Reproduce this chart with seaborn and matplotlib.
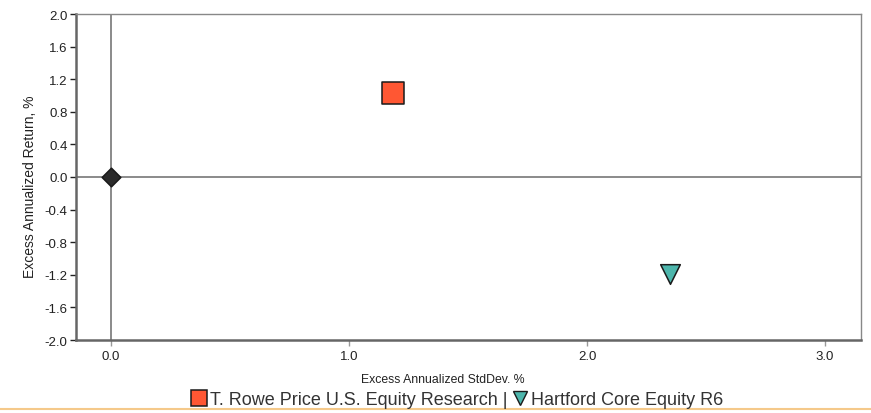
import matplotlib
matplotlib.use("Agg")
import matplotlib.pyplot as plt
import seaborn as sns
import pandas as pd
from matplotlib.lines import Line2D

names = ["Benchmark", "T. Rowe Price U.S. Equity Research", "Hartford Core Equity R6"]
std_dev = [0.0, 1.185, 2.35]
ret = [0.0, 1.03, -1.19]
colors = ["#2b2b2b", "#FF5733", "#4DB6AC"]
markers = ["D", "s", "v"]
sizes = [90, 240, 200]

x_ticks = [0.0, 1.0, 2.0, 3.0]
y_ticks = [2.0, 1.6, 1.2, 0.8, 0.4, 0.0, -0.4, -0.8, -1.2, -1.6, -2.0]

df = pd.DataFrame({"name": names, "x": std_dev, "y": ret})

sns.set_style("white")
plt.rcParams["font.family"] = ["Liberation Sans", "DejaVu Sans"]

fig = plt.figure(figsize=(8.71, 4.14), dpi=100)
ax = fig.add_axes([76/871, 1-341/414, (861-76)/871, (341-15)/414])

ax.axvline(0, color="#777777", lw=1.2, zorder=1)
ax.axhline(0, color="#777777", lw=1.2, zorder=1)

for i, n in enumerate(names):
    sub = df[df["name"] == n]
    sns.scatterplot(data=sub, x="x", y="y", ax=ax, marker=markers[i], s=sizes[i],
                    color=colors[i], edgecolor="#1a1a1a", linewidth=1.1, zorder=3,
                    legend=False)

ax.set_xlim(-0.147, 3.151)
ax.set_ylim(-2.0, 2.0)
ax.set_xticks(x_ticks)
ax.set_xticklabels([f"{v:.1f}" for v in x_ticks])
ax.set_yticks(y_ticks)
ax.set_yticklabels([f"{v:.1f}" for v in y_ticks])
ax.tick_params(axis="both", labelsize=9.5, colors="#222222", length=4, width=1,
               direction="out", left=True, bottom=True, pad=2)
ax.tick_params(axis="x", color="#999999", pad=3)

for s in ["left", "bottom"]:
    ax.spines[s].set_color("#666666")
    ax.spines[s].set_linewidth(1.8)
for s in ["top", "right"]:
    ax.spines[s].set_color("#888888")
    ax.spines[s].set_linewidth(1.0)

ax.set_xlabel("Excess Annualized StdDev. %", fontsize=8.8, color="#222222")
ax.xaxis.set_label_coords((443-76)/785, -(380-341)/326, transform=None) if False else None
ax.xaxis.set_label_coords((443-76)/785, -(380-341)/326)
ax.xaxis.label.set_va("center")
ax.set_ylabel("Excess Annualized Return, %", fontsize=10, color="#222222")
ax.yaxis.set_label_coords(-(76-30)/785, (341-187)/326)
ax.yaxis.label.set_va("center")

handles = [
    Line2D([], [], marker="s", linestyle="none", markersize=11.5, markerfacecolor=colors[1],
           markeredgecolor="#1a1a1a", markeredgewidth=1.1, label=names[1] + " |"),
    Line2D([], [], marker="v", linestyle="none", markersize=10, markerfacecolor=colors[2],
           markeredgecolor="#1a1a1a", markeredgewidth=1.0, label=names[2]),
]
fig.legend(handles=handles, loc="center", bbox_to_anchor=(456/871, 1-401/414), ncol=2,
           frameon=False, fontsize=13, handletextpad=0.0, columnspacing=0.1,
           handlelength=1.2, labelcolor="#333333", borderpad=0, borderaxespad=0)

fig.add_artist(Line2D([0, 1], [1-410/414, 1-410/414], transform=fig.transFigure,
                      color="#F5C98A", lw=1.5))

fig.savefig("out.png", dpi=100)
